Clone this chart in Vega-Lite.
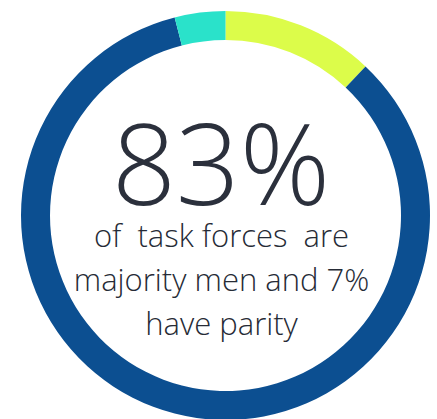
{
  "$schema": "https://vega.github.io/schema/vega-lite/v6.json",
  "width": 423,
  "height": 407,
  "autosize": "none",
  "padding": {"left": 14, "top": 12, "right": 0, "bottom": 0},
  "background": "white",
  "view": {"stroke": null},
  "layer": [
    {
      "data": {"values": [
        {"group": "Majority women", "value": 12, "order": 1},
        {"group": "Majority men", "value": 84, "order": 2},
        {"group": "Parity", "value": 4, "order": 3}
      ]},
      "mark": {"type": "arc", "innerRadius": 175.5, "outerRadius": 204.5},
      "encoding": {
        "theta": {"field": "value", "type": "quantitative", "stack": true},
        "order": {"field": "order", "type": "quantitative"},
        "color": {
          "field": "group", "type": "nominal",
          "scale": {"domain": ["Majority women", "Majority men", "Parity"], "range": ["#dcfc4a", "#0c4f91", "#2ae2ca"]},
          "legend": null
        }
      }
    },
    {
      "data": {"values": [{"label": "83%"}]},
      "mark": {"type": "text", "font": "Open Sans", "fontWeight": 300, "fontSize": 112, "color": "#2b303c", "align": "center", "baseline": "alphabetic", "dx": -4.5, "dy": -10.5},
      "encoding": {"text": {"field": "label", "type": "nominal"}}
    },
    {
      "data": {"values": [{"label": "of\u00a0 task forces\u00a0 are\nmajority men and 7%\nhave parity"}]},
      "mark": {"type": "text", "font": "Open Sans", "fontWeight": 300, "fontSize": 31, "color": "#262b36", "align": "center", "baseline": "alphabetic", "lineBreak": "\n", "lineHeight": 44, "dx": -4, "dy": 31.5},
      "encoding": {"text": {"field": "label", "type": "nominal"}}
    }
  ]
}
